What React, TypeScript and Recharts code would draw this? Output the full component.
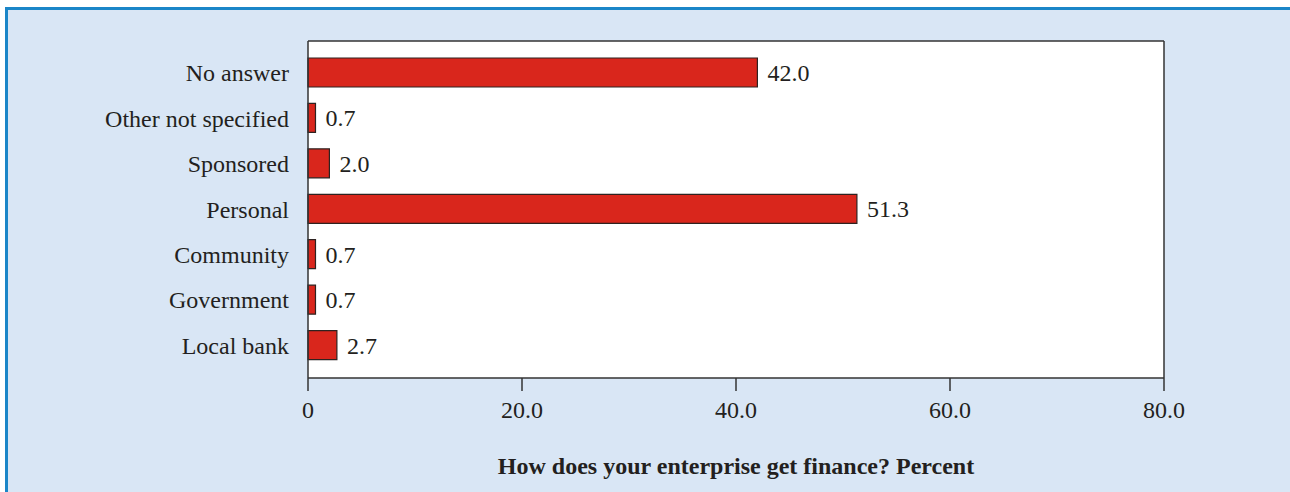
import React from 'react';
import { ComposedChart, Bar, XAxis, YAxis, CartesianGrid, LabelList } from 'recharts';

const categories = ['No answer', 'Other not specified', 'Sponsored', 'Personal', 'Community', 'Government', 'Local bank'];
const percentValues = [42.0, 0.7, 2.0, 51.3, 0.7, 0.7, 2.7];
const xTicks = [0, 20, 40, 60, 80];
const xAxisTitle = 'How does your enterprise get finance? Percent';

const data = categories.map((name, i) => ({ name, value: percentValues[i] }));

const FONT = '"Liberation Serif", "Times New Roman", serif';
const TEXT = '#231f20';
const AXIS = '#333333';

export default function App() {
  return (
    <div style={{ position: 'absolute', left: 0, top: 0, width: 1290, height: 492, background: '#ffffff', overflow: 'hidden' }}>
      <div
        style={{
          position: 'absolute',
          left: 5,
          top: 7,
          width: 1290,
          height: 492,
          background: '#d9e6f5',
          borderTop: '3px solid #1b86c8',
          borderLeft: '3px solid #1b86c8',
          boxSizing: 'border-box',
        }}
      />
      <div style={{ position: 'absolute', left: 0, top: 0 }}>
        <ComposedChart
          width={1290}
          height={492}
          data={data}
          layout="vertical"
          margin={{ top: 41, right: 126, bottom: 0, left: 0 }}
          barCategoryGap={0}
        >
          <CartesianGrid
            fill="#ffffff"
            stroke={AXIS}
            strokeWidth={1.5}
            horizontalCoordinatesGenerator={({ offset }: any) => [offset.top]}
            verticalCoordinatesGenerator={({ offset }: any) => [offset.left + offset.width]}
          />
          <XAxis
            type="number"
            domain={[0, 80]}
            ticks={xTicks}
            interval={0}
            height={114}
            tickSize={13}
            tickMargin={10}
            tickLine={{ stroke: AXIS, strokeWidth: 1.5 }}
            axisLine={{ stroke: AXIS, strokeWidth: 1.5 }}
            tick={{ fontFamily: FONT, fontSize: 24, fill: TEXT }}
            tickFormatter={(v: number) => (v === 0 ? '0' : v.toFixed(1))}
            label={{
              value: xAxisTitle,
              position: 'insideBottom',
              offset: 18,
              style: { fontFamily: FONT, fontSize: 24, fontWeight: 'bold', fill: TEXT },
            }}
          />
          <YAxis
            type="category"
            dataKey="name"
            width={308}
            padding={{ top: 9, bottom: 10 }}
            tickLine={false}
            tickSize={0}
            tickMargin={19}
            axisLine={{ stroke: AXIS, strokeWidth: 1.5 }}
            tick={{ fontFamily: FONT, fontSize: 24, fill: TEXT }}
            interval={0}
          />
          <Bar dataKey="value" fill="#d9261c" stroke="#2e2220" strokeWidth={1.2} barSize={29} isAnimationActive={false}>
            <LabelList
              dataKey="value"
              position="right"
              offset={10}
              formatter={(v: number) => Number(v).toFixed(1)}
              style={{ fontFamily: FONT, fontSize: 24, fill: TEXT }}
            />
          </Bar>
        </ComposedChart>
      </div>
    </div>
  );
}
